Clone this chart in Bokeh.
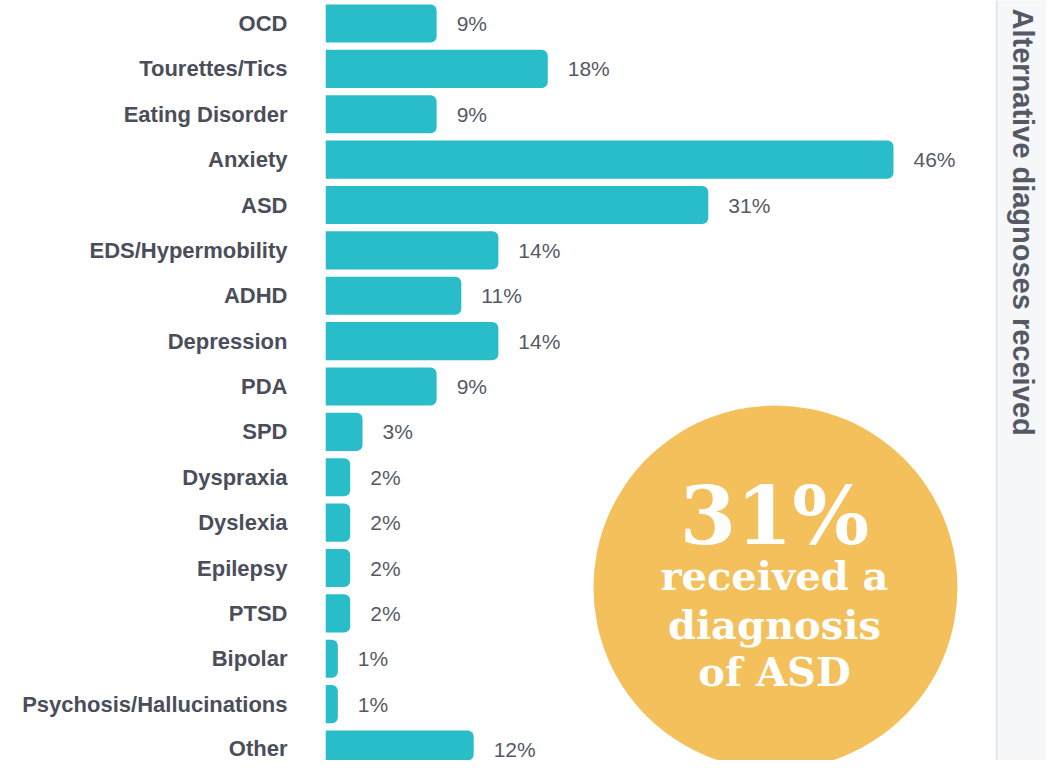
import math
from bokeh.plotting import figure
from bokeh.layouts import row
from bokeh.models import Range1d, FixedTicker, Label, Span, ColumnDataSource
from bokeh.core.properties import value
from bokeh.embed import file_html
from bokeh.resources import INLINE

# ---- data ----
categories = ["OCD", "Tourettes/Tics", "Eating Disorder", "Anxiety", "ASD",
              "EDS/Hypermobility", "ADHD", "Depression", "PDA", "SPD",
              "Dyspraxia", "Dyslexia", "Epilepsy", "PTSD", "Bipolar",
              "Psychosis/Hallucinations", "Other"]
values = [9, 18, 9, 46, 31, 14, 11, 14, 9, 3, 2, 2, 2, 2, 1, 1, 12]
side_title = "Alternative diagnoses received"
callout_lines = ["received a", "diagnosis", "of ASD"]
highlight = "ASD"

# ---- style ----
BAR = "#28bdc9"
GOLD = "#f3c05b"
LABEL_COL = "#4a4e5a"
VALUE_COL = "#555a66"
PANEL_BG = "#f5f7f9"

pos = list(range(len(categories)))
labels = [f"{v}%" for v in values]
src = ColumnDataSource(dict(y=pos, v=values, lab=labels))

W_MAIN, H = 995, 760
p = figure(width=W_MAIN, height=H, output_backend="svg", toolbar_location=None,
           x_range=Range1d(0, 54.26), y_range=Range1d(16.242, -0.507),
           x_axis_location=None, y_axis_location="left",
           min_border_left=325, min_border_right=0, min_border_top=0, min_border_bottom=0,
           outline_line_color=None, background_fill_color=None, border_fill_color="white")
p.grid.visible = False

p.hbar(y="y", right="v", left=0, height=0.84, source=src, color=BAR,
       line_color=None, border_radius=(0, 6, 6, 0))
p.text(x="v", y="y", text="lab", source=src, x_offset=20, text_baseline="middle",
       text_align="left", text_font=value("Liberation Sans"), text_font_size="21px",
       text_color=VALUE_COL)

ax = p.yaxis[0]
ax.ticker = FixedTicker(ticks=pos)
ax.major_label_overrides = {i: c for i, c in zip(pos, categories)}
ax.major_label_text_font = "Liberation Sans"
ax.major_label_text_font_style = "bold"
ax.major_label_text_font_size = "22px"
ax.major_label_text_color = LABEL_COL
ax.major_label_standoff = 38
ax.major_tick_in = 0
ax.major_tick_out = 0
ax.minor_tick_in = 0
ax.minor_tick_out = 0
ax.axis_line_color = None

# ---- callout circle ----
cx, cy = 36.44, 12.43
tx = 36.36
p.circle(x=[cx], y=[cy], radius=14.74, color=GOLD, line_color=None)
hv = values[categories.index(highlight)]
p.text(x=[tx], y=[10.84], text=[f"{hv}%"], text_align="center",
       text_baseline="middle", text_font=value("DejaVu Serif"),
       text_font_style="bold", text_font_size="81px", text_color="white")
p.text(x=[tx] * 3, y=[12.17, 13.25, 14.29], text=callout_lines, text_align="center",
       text_baseline="middle", text_font=value("DejaVu Serif"),
       text_font_style="bold", text_font_size="40px", text_color="white")

# ---- side panel ----
s = figure(width=51, height=H, output_backend="svg", toolbar_location=None,
           x_range=Range1d(0, 1), y_range=Range1d(0, 1),
           x_axis_location=None, y_axis_location=None,
           min_border=0, outline_line_color=None,
           background_fill_color=PANEL_BG, border_fill_color=PANEL_BG)
s.grid.visible = False
s.add_layout(Span(location=0.02, dimension="height", line_color="#dde1e6", line_width=1.5))
s.add_layout(Label(x=0.53, y=0.9895, text=side_title, angle=-math.pi / 2,
                   text_align="left", text_baseline="middle",
                   text_font="Liberation Sans", text_font_style="bold",
                   text_font_size="29px", text_color="#555966"))

layout = row(p, s, spacing=0)
open("out.html", "w").write(file_html(layout, INLINE))
